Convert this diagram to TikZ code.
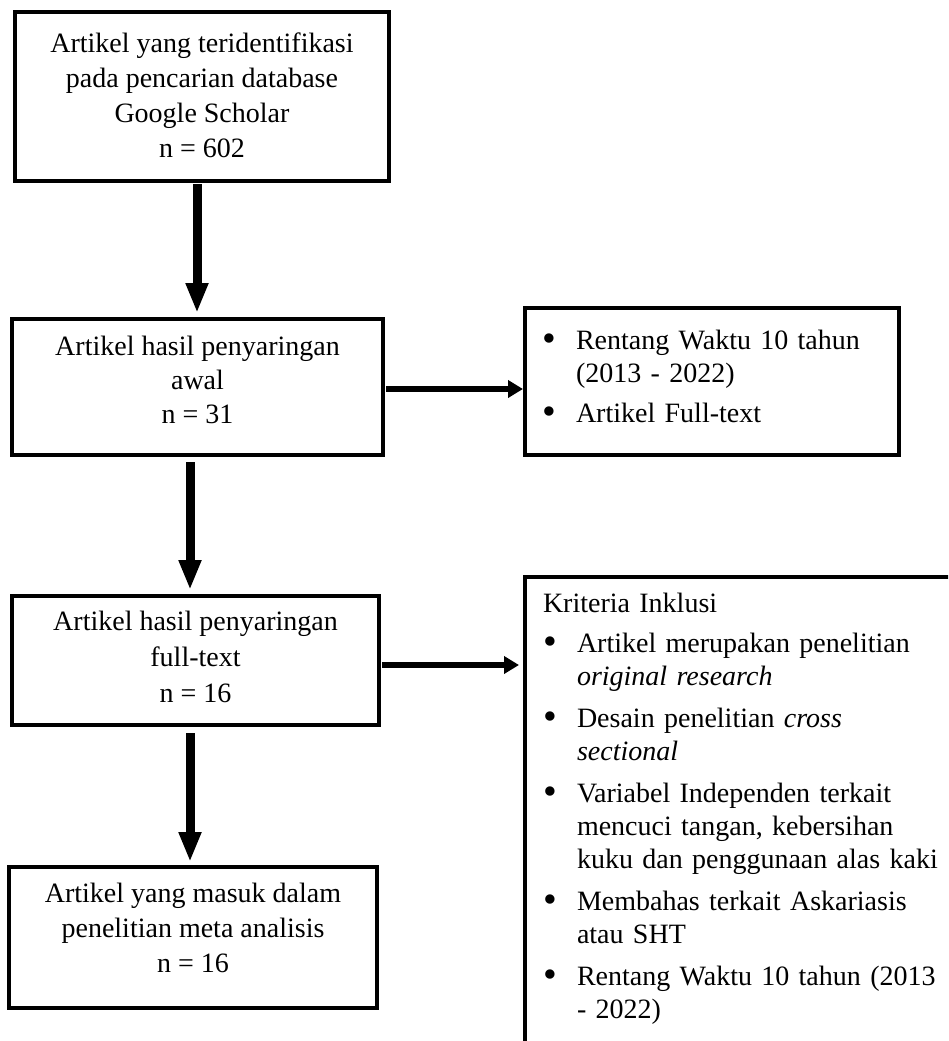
\documentclass[tikz,border=0pt]{standalone}
\usepackage{fontspec}
\setmainfont{Liberation Serif}
\usetikzlibrary{arrows.meta}
\newcommand\mybul{\makebox[34pt][l]{\raisebox{-2pt}{\scalebox{1.4}{\textbullet}}}}
\newcommand\firstitm[1]{\hangindent=34pt\hangafter=1\noindent\mybul#1}
\newcommand\bitm[2][9pt]{\par\vspace{#1}\hangindent=34pt\hangafter=1\noindent\mybul#2}
\begin{document}
\begin{tikzpicture}[x=1pt,y=1pt,
  box/.style={draw, line width=4pt, outer sep=0pt, inner sep=0pt, align=center, font=\fontsize{28}{35}\selectfont},
  listbox/.style={draw, line width=4pt, outer sep=0pt, anchor=north west, font=\fontsize{28}{33}\selectfont},
  varrow/.style={line width=9pt, -{Triangle[length=30pt,width=21pt]}},
  harrow/.style={line width=6.5pt, -{Triangle[length=15pt,width=17pt]}}]
\useasboundingbox[fill=white] (0,0) rectangle (948,-1041);
\begin{scope}
\clip (0,0) rectangle (948,-1041);

\node[box, minimum width=374pt, minimum height=169pt] (b1) at (202,-96.5)
  {Artikel yang teridentifikasi\\pada pencarian database\\Google Scholar\\n = 602\rule[-2pt]{0pt}{2pt}};
\node[box, minimum width=371pt, minimum height=136pt, font=\fontsize{28}{34}\selectfont] (b2) at (197.5,-387)
  {Artikel hasil penyaringan\\awal\\n = 31\rule[-15pt]{0pt}{15pt}};
\node[box, minimum width=367pt, minimum height=129pt, font=\fontsize{28}{36}\selectfont] (b3) at (195.5,-660.5)
  {Artikel hasil penyaringan\\full-text\\n = 16\rule[-8pt]{0pt}{8pt}};
\node[box, minimum width=368pt, minimum height=141pt] (b4) at (193,-937.5)
  {Artikel yang masuk dalam\\penelitian meta analisis\\n = 16\rule[-19pt]{0pt}{19pt}};

\node[listbox, text width=340pt, inner xsep=17pt, inner ysep=22pt] (r1) at (525,-308)
  {\raggedright\parskip=0pt
   \firstitm{Rentang Waktu 10 tahun\newline(2013 - 2022)}
   \bitm[7pt]{Artikel Full-text\rule[-11pt]{0pt}{11pt}}\par};

\node[listbox, text width=420pt, inner xsep=18pt, inner ysep=16pt] (big) at (525,-577)
  {\raggedright\parskip=0pt\noindent Kriteria Inklusi
   \bitm[7pt]{Artikel merupakan penelitian\newline\textit{original research}}
   \bitm{Desain penelitian \textit{cross}\newline\textit{sectional}}
   \bitm{Variabel Independen terkait\newline mencuci tangan, kebersihan\newline kuku dan penggunaan alas kaki}
   \bitm{Membahas terkait Askariasis\newline atau SHT}
   \bitm{Rentang Waktu 10 tahun (2013\newline- 2022)}
   \par\noindent\rule{0pt}{80pt}\par};

\draw[varrow, shorten <=3pt, shorten >=6pt] ([xshift=-5pt]b1.south) -- ([xshift=-0.5pt]b2.north);
\draw[varrow, shorten <=7pt, shorten >=6pt] ([xshift=-7.5pt]b2.south) -- ([xshift=-5.5pt]b3.north);
\draw[varrow, shorten <=8pt, shorten >=5pt] ([xshift=-5.5pt]b3.south) -- ([xshift=-3pt]b4.north);

\coordinate (s2) at ([yshift=-2pt]b2.east);
\draw[harrow, shorten <=3pt, shorten >=2pt] (s2) -- (r1.west |- s2);
\coordinate (s3) at ([yshift=-4.5pt]b3.east);
\draw[harrow, shorten <=3pt, shorten >=6pt] (s3) -- (big.west |- s3);
\end{scope}
\end{tikzpicture}
\end{document}
